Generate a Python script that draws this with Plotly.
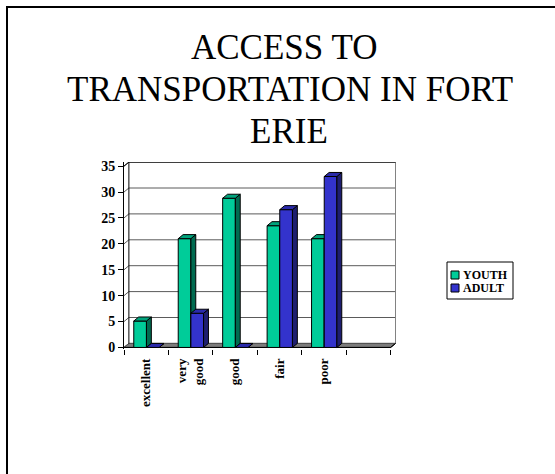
import plotly.graph_objects as go

# ---- data -------------------------------------------------------------
categories = ["excellent", "very good", "good", "fair", "poor"]
tick_labels = ["excellent", "very<br>good", "good", "fair", "poor"]
youth = [5.1, 21.0, 28.8, 23.5, 21.0]
adult = [0.0, 6.6, 0.0, 26.6, 33.0]
y_tick_values = [0, 5, 10, 15, 20, 25, 30, 35]
series_names = ["YOUTH", "ADULT"]
title_lines = ["ACCESS TO", "TRANSPORTATION IN FORT", "ERIE"]

# ---- layout constants ---------------------------------------------------
W, H = 555, 474
L, R, T, B = 124, 396, 162, 349          # plot-area box in pixels
X_RANGE = [0, 6.12]
Y_RANGE = [-0.3, 35.8]
SLOTS = 6                                # five categories plus an empty slot
DX, DY = 0.11, 0.78                      # 3-D depth offset in data units
Y_MAX = 35

FONT = "Liberation Serif"
COLORS = {
    "YOUTH": dict(front="#00CC99", side="#006B50", top="#00A37C"),
    "ADULT": dict(front="#3333CC", side="#1E1E70", top="#2A2AAA"),
}
BAR_SPAN = {"YOUTH": (0.22, 0.505), "ADULT": (0.505, 0.79)}


def px_x(p):
    return (p - L) / (R - L)


def px_y(p):
    return (B - p) / (B - T)


def polygon(xs, ys, fill, line="black", width=1):
    return go.Scatter(
        x=xs + [xs[0]], y=ys + [ys[0]], mode="lines", fill="toself",
        fillcolor=fill, line=dict(color=line, width=width),
        hoverinfo="skip", showlegend=False,
    )


def polyline(xs, ys, color, width=1):
    return go.Scatter(
        x=xs, y=ys, mode="lines", line=dict(color=color, width=width),
        hoverinfo="skip", showlegend=False,
    )


fig = go.Figure()

# floor
fig.add_trace(polygon([0, SLOTS, SLOTS + DX, DX], [0, 0, DY, DY], "#7C7C7C"))

# back-wall gridlines with their diagonals across the side wall
gx, gy = [], []
for v in y_tick_values:
    gx += [0, DX, SLOTS + DX, None]
    gy += [v, v + DY, v + DY, None]
fig.add_trace(polyline(gx, gy, "#5A5A5A"))
# wall edges
fig.add_trace(polyline([DX, DX], [DY, Y_MAX + DY], "black"))
fig.add_trace(polyline([SLOTS + DX, SLOTS + DX], [DY, Y_MAX + DY], "#7C7C7C"))
fig.add_trace(polyline([0, DX, SLOTS + DX], [Y_MAX, Y_MAX + DY, Y_MAX + DY], "black"))
fig.add_trace(polyline([0, SLOTS, SLOTS + DX], [0, 0, DY], "black"))

# 3-D columns: front face, side face, top face
for i in range(len(categories)):
    for name, values in zip(series_names, [youth, adult]):
        v = values[i]
        a, b = BAR_SPAN[name]
        xl, xr = i + a, i + b
        c = COLORS[name]
        fig.add_trace(polygon([xl, xr, xr, xl], [0, 0, v, v], c["front"]))
        fig.add_trace(polygon([xr, xr + DX, xr + DX, xr], [0, DY, v + DY, v], c["side"]))
        fig.add_trace(polygon([xl, xr, xr + DX, xl + DX], [v, v, v + DY, v + DY], c["top"]))

fig.update_layout(
    width=W, height=H, autosize=False,
    margin=dict(l=L, r=W - R, t=T, b=H - B, pad=0),
    paper_bgcolor="white", plot_bgcolor="white",
    showlegend=False,
    font=dict(family=FONT, color="black"),
)

fig.update_xaxes(
    range=X_RANGE, showgrid=False, zeroline=False, showline=False,
    tickmode="array", tickvals=[i + 0.5 for i in range(len(categories))],
    ticktext=tick_labels, ticks="", tickangle=-90, ticklabelstandoff=6,
    tickfont=dict(family=FONT, size=13, weight="bold", color="black"),
    minor=dict(tickmode="array", tickvals=list(range(SLOTS + 1)),
               ticks="outside", ticklen=5, tickcolor="black", tickwidth=1,
               showgrid=False),
)
fig.update_yaxes(
    range=Y_RANGE, showgrid=False, zeroline=False,
    showline=True, linecolor="black", linewidth=1,
    tickmode="array", tickvals=y_tick_values, ticks="outside",
    ticklen=5, tickcolor="black",
    tickfont=dict(family=FONT, size=14, weight="bold", color="black"),
)

# title, three centred lines
for text, cx, cy in zip(title_lines, [284, 290, 289], [47, 89, 131]):
    fig.add_annotation(
        text=text, x=px_x(cx), y=px_y(cy), xref="paper", yref="paper",
        xanchor="center", yanchor="middle", showarrow=False,
        font=dict(family=FONT, size=35, color="black"),
    )

# legend box
fig.add_shape(type="rect", xref="paper", yref="paper",
              x0=px_x(447), x1=px_x(513), y0=px_y(299), y1=px_y(262),
              line=dict(color="black", width=1), fillcolor="white")
for k, (name, cy) in enumerate(zip(series_names, [275, 288])):
    fig.add_shape(type="rect", xref="paper", yref="paper",
                  x0=px_x(451), x1=px_x(459), y0=px_y(cy + 4), y1=px_y(cy - 4),
                  line=dict(color="black", width=1),
                  fillcolor=COLORS[name]["front"])
    fig.add_annotation(
        text=name, x=px_x(461), y=px_y(cy), xref="paper", yref="paper",
        xanchor="left", yanchor="middle", showarrow=False,
        font=dict(family=FONT, size=12, weight="bold", color="black"),
    )

# page frame: left and top edges
fig.add_shape(type="line", xref="paper", yref="paper",
              x0=px_x(7), x1=px_x(7), y0=px_y(7), y1=px_y(490),
              line=dict(color="black", width=2))
fig.add_shape(type="line", xref="paper", yref="paper",
              x0=px_x(6), x1=px_x(570), y0=px_y(7), y1=px_y(7),
              line=dict(color="black", width=2))

fig.write_html("out.html")
